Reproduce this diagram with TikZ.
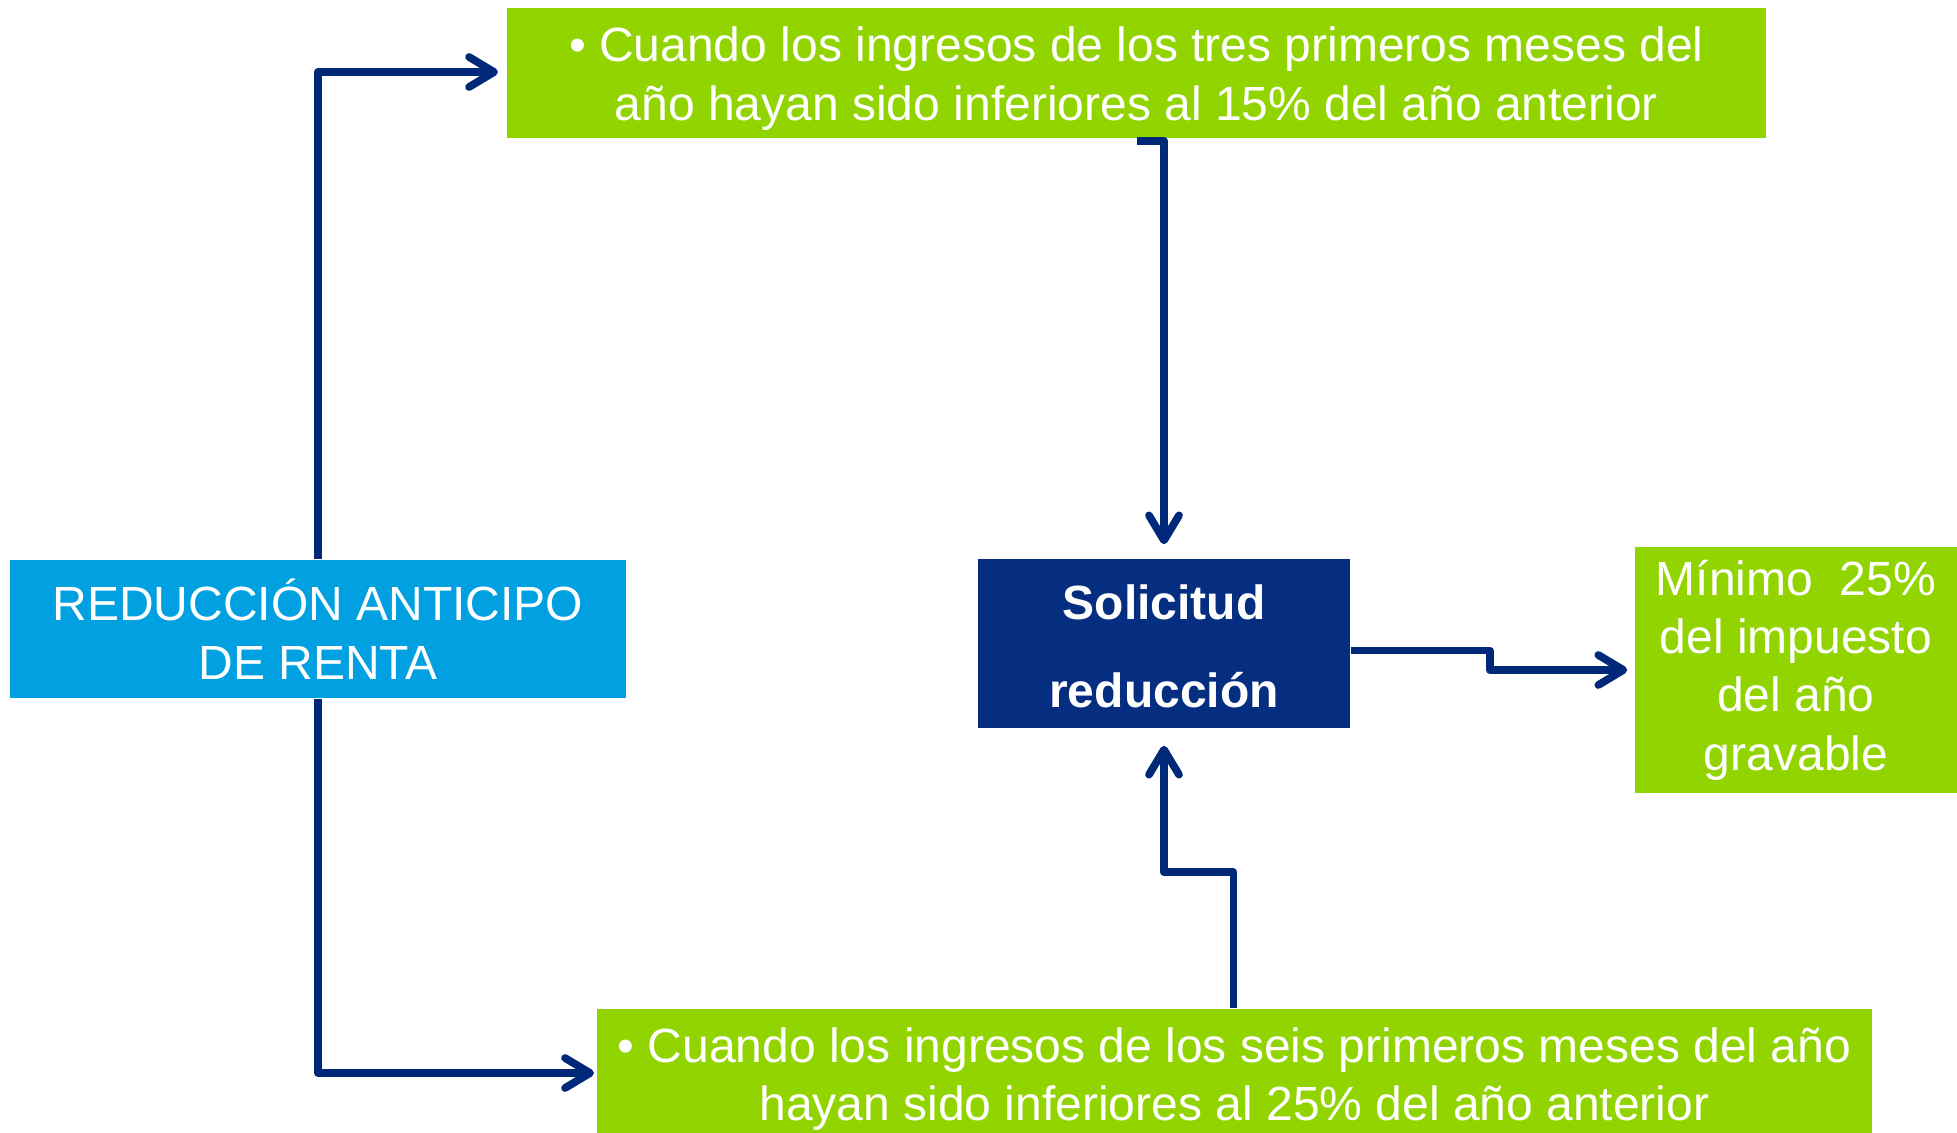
\documentclass[tikz,border=0pt]{standalone}
\usepackage{fontspec}
\setmainfont{Liberation Sans}
\usetikzlibrary{arrows.meta}
\definecolor{verde}{RGB}{146,212,0}
\definecolor{celeste}{RGB}{0,160,225}
\definecolor{azul}{RGB}{6,46,128}
\definecolor{flecha}{RGB}{0,40,120}
\tikzset{
	caja/.style={rectangle, inner sep=0pt, text=white, align=center,
		font=\fontsize{13.65}{16.6}\selectfont},
	conn/.style={draw=flecha, line width=2.2pt, line join=round,
		-{Straight Barb[length=0.25cm, width=0.3cm, line width=2.2pt, round]}}
}
\begin{document}
\begin{tikzpicture}[x=0.01cm, y=-0.01cm]
		%%%%% START %%%%%
		\useasboundingbox (0, 0) rectangle (1957, 1133);
		
		\node[caja, fill=verde, minimum width=12.59cm, minimum height=1.30cm] (tres) at (1136.5, 73)
			{\rule{0pt}{13pt}• Cuando los ingresos de los tres primeros meses del\\año hayan sido inferiores al 15\% del año anterior};
		\node[caja, fill=celeste, minimum width=6.16cm, minimum height=1.38cm] (reduccion) at (318, 629)
			{REDUCCIÓN ANTICIPO\\DE RENTA};
		\node[caja, fill=azul, minimum width=3.72cm, minimum height=1.69cm,
			font=\fontsize{13.65}{25}\selectfont\bfseries] (solicitud) at (1164, 643.5)
			{\rule{0pt}{11.5pt}Solicitud\\reducción};
		\node[caja, fill=verde, minimum width=3.22cm, minimum height=2.46cm] (minimo) at (1796, 670)
			{Mínimo\ \ 25\%\\del impuesto\\del año\\gravable};
		\node[caja, fill=verde, minimum width=12.75cm, minimum height=1.40cm] (seis) at (1234.5, 1079)
			{• Cuando los ingresos de los seis primeros meses del año\\hayan sido inferiores al 25\% del año anterior};
		
		\draw[conn, shorten >=0.08cm] (reduccion.north) |- ([yshift=0.01cm]tres.west);
		\draw[conn, shorten >=0.02cm] (reduccion.south) |- ([yshift=0.06cm]seis.west);
		\draw[conn, shorten >=0.14cm] ([yshift=-0.02cm]tres.south) -| (solicitud.north);
		\draw[conn, shorten >=0.17cm] ([xshift=-0.01cm]seis.north) -- ++(0, -136) -| (solicitud.south);
		\draw[conn, shorten >=0.07cm] ([yshift=-0.07cm]solicitud.east) -- ++(139, 0) |- (minimo.west);
		%%%%% END %%%%%
	\end{tikzpicture}
\end{document}
